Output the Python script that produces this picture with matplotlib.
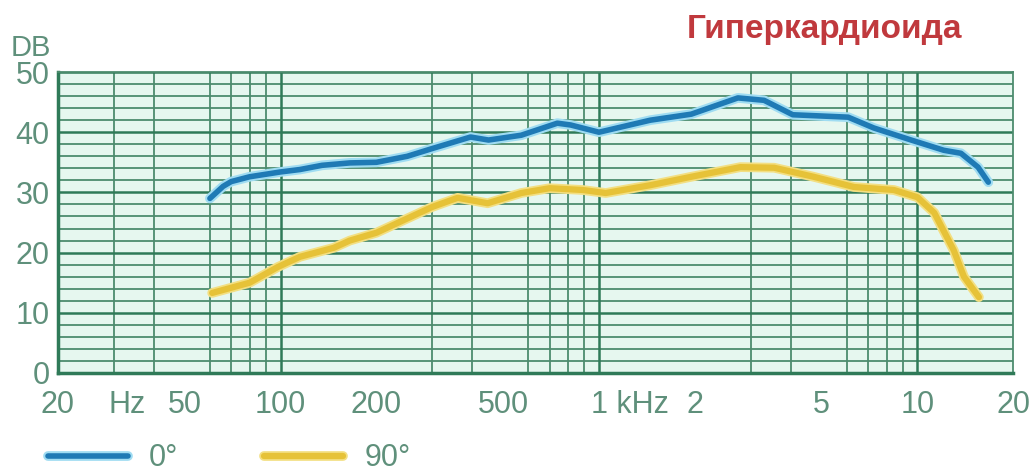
import matplotlib
matplotlib.use("Agg")
import numpy as np
from matplotlib import pyplot as plt
from matplotlib import patheffects as pe
from matplotlib.ticker import FixedLocator, LogLocator, NullFormatter
from matplotlib.transforms import ScaledTranslation

# 0 degrees response
freq_0 = [60, 66, 70, 80, 100, 115, 135, 165, 200, 250, 300, 395, 450, 570,
          740, 815, 1000, 1450, 1950, 2730, 3300, 4060, 6060, 7300, 9560,
          12100, 13700, 15500, 16700]
db_0 = [29.0, 31.0, 31.8, 32.6, 33.4, 33.8, 34.5, 34.9, 35.0, 36.0, 37.3, 39.2,
        38.7, 39.5, 41.5, 41.2, 40.0, 42.0, 43.0, 45.7, 45.3, 42.9, 42.5, 40.7,
        38.7, 37.0, 36.5, 34.2, 31.7]

# 90 degrees response
freq_90 = [61, 80, 98, 115, 147, 165, 200, 300, 360, 447, 570, 700, 890, 1050,
           1450, 1950, 2780, 3550, 4720, 6320, 8440, 10000, 11300, 13000,
           14000, 15600]
db_90 = [13.3, 15.0, 17.6, 19.3, 20.8, 22.0, 23.3, 27.6, 29.1, 28.2, 29.9, 30.7,
         30.4, 29.9, 31.2, 32.6, 34.2, 34.1, 32.6, 30.9, 30.4, 29.2, 26.6, 20.4,
         16.0, 12.6]

x_ticks = [20, 33, 50, 100, 200, 500, 1000, 2000, 5000, 10000, 20000]
x_labels = ["20", "Hz", "50", "100", "200", "500", "1 kHz", "2", "5", "10", "20"]
y_ticks = [0, 10, 20, 30, 40, 50]

label_color = "#5f907b"
grid_color = "#2f7a58"
font = "Liberation Sans"

fig = plt.figure(figsize=(10.35, 4.76), dpi=100)
ax = fig.add_axes([0.056, 0.2164, 0.923, 0.6323])
ax.set_facecolor("#e6f7ef")

ax.set_xscale("log")
ax.set_xlim(20, 20000)
ax.set_ylim(0, 50)

# grid
ax.xaxis.set_minor_locator(LogLocator(base=10, subs=np.arange(1, 10), numticks=50))
ax.xaxis.set_minor_formatter(NullFormatter())
ax.yaxis.set_minor_locator(FixedLocator(np.arange(0, 51, 2)))
ax.grid(which="minor", axis="both", color="#4d8c6e", linewidth=1.3)
ax.grid(which="major", axis="y", color=grid_color, linewidth=1.8)
for f in [100, 1000, 10000]:
    ax.axvline(f, color=grid_color, linewidth=1.8)
ax.set_axisbelow(True)

ax.set_xticks(x_ticks)
ax.set_xticklabels(x_labels)
ax.set_yticks(y_ticks)
ax.tick_params(which="both", length=0)
ax.tick_params(axis="x", pad=12)
ax.tick_params(axis="y", pad=6)
for lab in ax.get_xticklabels() + ax.get_yticklabels():
    lab.set_fontfamily(font)
    lab.set_fontsize(22)
    lab.set_color(label_color)
khz = ax.get_xticklabels()[6]
khz.set_ha("left")
khz.set_transform(khz.get_transform() + ScaledTranslation(-0.08, 0, fig.dpi_scale_trans))

for side in ["top", "right"]:
    ax.spines[side].set_color("#4d8c6e")
    ax.spines[side].set_linewidth(1.3)
for side in ["left", "bottom"]:
    ax.spines[side].set_color(grid_color)
    ax.spines[side].set_linewidth(2.5)

ax.plot(freq_0, db_0, color="#1f7ab5", linewidth=4, solid_capstyle="round",
        path_effects=[pe.Stroke(linewidth=7, foreground="#9fdcf2"), pe.Normal()],
        label="0°")
ax.plot(freq_90, db_90, color="#e6c238", linewidth=4.5, solid_capstyle="round",
        path_effects=[pe.Stroke(linewidth=7, foreground="#f3df82"), pe.Normal()],
        label="90°")

fig.text(0.797, 0.937, "Гиперкардиоида", family=font, fontsize=24,
         fontweight="bold", color="#c0393d", ha="center", va="center")
fig.text(0.030, 0.900, "DB", family=font, fontsize=21, color=label_color,
         ha="center", va="center")

fig.legend(loc="lower left", bbox_to_anchor=(0.02, -0.052), ncol=2,
           frameon=False, handlelength=2.6, handletextpad=0.7,
           columnspacing=2.8, prop={"family": font, "size": 22},
           labelcolor=label_color)

plt.savefig("out.png", dpi=100)
